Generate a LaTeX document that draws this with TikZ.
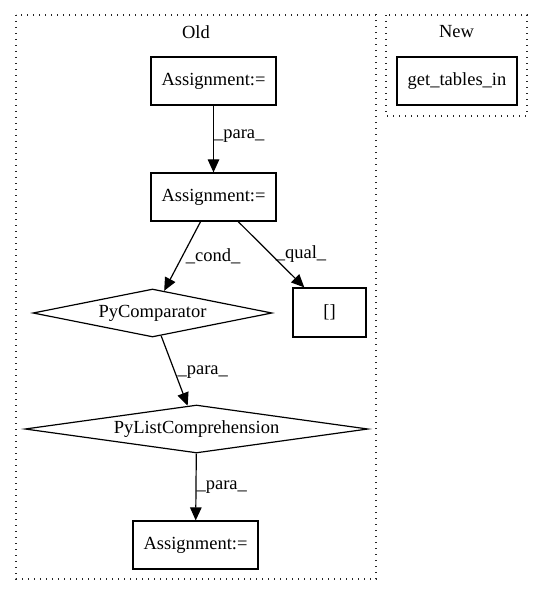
\documentclass[tikz,border=0pt]{standalone}
\usepackage{fontspec}
\setmainfont{Liberation Serif}
\usetikzlibrary{shapes.geometric,arrows.meta}
\begin{document}
\begin{tikzpicture}[x=1pt,y=-1pt,
  every node/.style={font=\fontsize{18.5}{22}\selectfont},
  box/.style={draw,line width=1.2pt,rectangle,minimum width=125pt,minimum height=48pt,inner sep=0pt},
  dia/.style={draw,line width=1.2pt,diamond,inner sep=0pt,minimum height=48pt},
  edge/.style={line width=1.2pt,-{Triangle[length=13pt,width=11.5pt]}},
  lab/.style={inner sep=0pt,anchor=west},
  cluster/.style={line width=1.2pt,dash pattern=on 1.3pt off 4.7pt,gray!30!black}]
\useasboundingbox (0,0) rectangle (544,596);
\draw[cluster] (16,15) rectangle (376,579);
\draw[cluster] (386,15) rectangle (527,116);
\node (old) at (196,32) {Old};
\node (new) at (456.5,32) {New};
\node[box] (a1) at (213.5,81) {Assignment:=};
\node[box] (a2) at (213.5,197) {Assignment:=};
\node[dia,minimum width=239pt,shape aspect=5] (pc) at (152.5,313) {PyComparator};
\node[box,minimum width=73pt,minimum height=49pt] (br) at (329.5,312.5) {[]};
\node[dia,minimum width=343pt,shape aspect=7.1] (plc) at (196.5,429) {PyListComprehension};
\node[box] (a3) at (195.5,545) {Assignment:=};
\node[box,minimum width=120pt] (gt) at (457,81) {get\_tables\_in};
\draw[edge] (a1) -- node[lab,pos=0.45] {\_para\_} (a2);
\draw[edge] (a2) -- node[lab,pos=0.5,xshift=3pt] {\_cond\_} (pc);
\draw[edge] (a2) -- node[lab,pos=0.5,xshift=4pt] {\_qual\_} (br);
\draw[edge] (pc) -- node[lab,pos=0.52,xshift=2pt] {\_para\_} (plc);
\draw[edge] (plc) -- node[lab] {\_para\_} (a3);
\end{tikzpicture}
\end{document}
